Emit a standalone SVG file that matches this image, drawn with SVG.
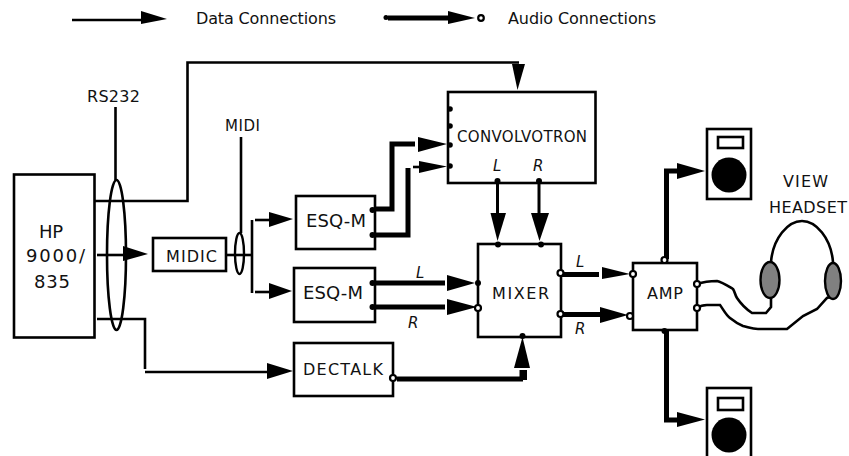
<svg xmlns="http://www.w3.org/2000/svg" width="849" height="456" viewBox="0 0 849 456">
<style>
text{font-family:"DejaVu Sans",Verdana,sans-serif;fill:#111}
.t{font-size:16px}
.s{font-size:15px}
.b{font-size:18px}
.i{font-size:15px;font-style:italic}
.box{fill:#fff;stroke:#000;stroke-width:2.600}
.d{fill:none;stroke:#000;stroke-width:2.600}
.a{fill:none;stroke:#000;stroke-width:5}
.h{fill:#000}
.f{fill:#000}
.o{fill:#fff;stroke:#000;stroke-width:2.200}
.cup{fill:#808080;stroke:#000;stroke-width:2.400}
</style>
<rect width="849" height="456" fill="#fff"/>
<g id="connectors">
<path class="d" d="M72 20H142"/><path class="h" d="M141 11L167 19L141 24Z"/>
<path class="a" d="M388 18H449"/><path class="h" d="M448 11L475 18L448 24Z"/>
<path class="d" d="M95 201H187.500V62.500H519"/><path class="h" d="M512 64H525L517.500 90Z"/>
<path class="d" d="M97 255H125"/><path class="h" d="M123 246L148 254L123 261Z"/>
<path class="d" d="M226 255H252"/>
<path class="d" d="M252 220V293"/>
<path class="d" d="M255 220H270"/><path class="h" d="M269 212L293 219L269 227Z"/>
<path class="d" d="M255 292H270"/><path class="h" d="M269 283L292 291L269 299Z"/>
<path class="d" d="M97 319H145V369"/>
<path class="d" d="M145 372H270"/><path class="h" d="M267 363L293 371L267 379Z"/>
<path class="a" d="M373 209H392V144H415"/><path class="h" d="M418 137L447 144L418 152Z"/>
<path class="a" d="M373 235H408V168"/><path class="d" d="M413 167H420"/><path class="h" d="M419 161L447 166.500L419 173Z"/>
<path class="a" d="M373 283H445"/><path class="h" d="M447 275L475 283L447 291Z"/>
<path class="a" d="M373 307H445"/><path class="h" d="M447 299L477 307L447 315Z"/>
<path class="d" d="M497.500 183V215" style="stroke-width:3"/><path class="h" d="M490.500 213H506L497.500 241Z"/>
<path class="d" d="M539 183V215" style="stroke-width:3"/><path class="h" d="M531 213H549L539.500 241Z"/>
<path class="a" d="M397 379H523"/><path class="h" d="M519.500 370H527V380H519.500Z"/><path class="h" d="M514 368H530L522.500 337Z"/>
<path class="a" d="M561 274.500H599"/><path class="h" d="M602 267L630 274L602 279Z"/>
<path class="a" d="M561 314.500H602"/><path class="h" d="M600 307L628 315L600 323Z"/>
<path class="a" d="M666.500 259V171H680"/><path class="h" d="M677 163L705 171L677 179Z"/>
<path class="a" d="M666.500 331V420H680"/><path class="h" d="M677 412L705 419.500L677 427Z"/>
<path class="d" d="M697 284C703 282 710 281 717 281C722 282 728 286 733 289C735 292 735 295 737 298C741 304 746 309 752 313H766L771 307V298"/>
<path class="d" d="M697 308C700 306 703 305 707 305H720C723 309 726 315 730 318C735 322 738 324 743 326C748 327 752 329 758 329H787L803 316L817 309L827 298L830 297"/>
<path class="d" d="M115.500 107V180"/>
<path class="d" d="M241 137V233"/>
</g>
<g id="legend">
<circle class="f" cx="386" cy="17.500" r="2.500"/>
<circle class="o" cx="481" cy="18" r="2.800"/>
<text class="t" x="196" y="24" textLength="140">Data Connections</text>
<text class="t" x="508" y="24" textLength="148">Audio Connections</text>
</g>
<g id="hp">
<rect class="box" x="14" y="174.500" width="80.500" height="163"/>
<text class="b" x="39" y="238" textLength="24">HP</text>
<text class="b" x="26" y="262" textLength="59">9000/</text>
<text class="b" x="34" y="288" textLength="36">835</text>
</g>
<g id="rs232">
<ellipse cx="116.500" cy="255" rx="9.500" ry="75" fill="none" stroke="#000" stroke-width="2.600"/>
<text class="t" x="87" y="102" textLength="53">RS232</text>
</g>
<g id="midic">
<rect class="box" x="153" y="238" width="73" height="33"/>
<text class="t" x="166" y="262" textLength="51">MIDIC</text>
</g>
<g id="midi">
<ellipse cx="239.500" cy="253.500" rx="4.500" ry="20.500" fill="none" stroke="#000" stroke-width="2.400"/>
<text class="s" x="225" y="131" textLength="35">MIDI</text>
</g>
<g id="esqm1">
<rect class="box" x="296" y="196" width="79" height="53"/>
<circle class="f" cx="372.500" cy="210" r="3"/>
<circle class="f" cx="372.500" cy="235" r="3"/>
<text class="b" x="306" y="227" textLength="60">ESQ-M</text>
</g>
<g id="esqm2">
<rect class="box" x="294" y="268" width="81" height="54"/>
<circle class="f" cx="372.500" cy="283" r="3"/>
<circle class="f" cx="372.500" cy="307" r="3"/>
<text class="b" x="303" y="299" textLength="60">ESQ-M</text>
<text class="i" x="416" y="278">L</text>
<text class="i" x="408" y="328">R</text>
</g>
<g id="dectalk">
<rect class="box" x="294" y="343" width="99" height="53"/>
<circle class="o" cx="393" cy="378" r="3"/>
<text class="t" x="303" y="375" textLength="80">DECTALK</text>
</g>
<g id="convolvotron">
<rect class="box" x="448" y="92" width="147.500" height="91"/>
<circle class="f" cx="450" cy="109" r="2.800"/>
<circle class="f" cx="450" cy="126" r="2.800"/>
<circle class="f" cx="450" cy="145" r="2.800"/>
<circle class="f" cx="450" cy="166" r="2.800"/>
<circle class="f" cx="497.500" cy="181" r="3"/>
<circle class="f" cx="539" cy="181" r="3"/>
<text class="s" x="457" y="142" textLength="130">CONVOLVOTRON</text>
<text class="i" x="493" y="171">L</text>
<text class="i" x="533" y="171">R</text>
</g>
<g id="mixer">
<rect class="box" x="478" y="244" width="83" height="93"/>
<circle class="f" cx="498" cy="244.500" r="3"/>
<circle class="f" cx="541" cy="244.500" r="3"/>
<circle class="f" cx="478" cy="283" r="3"/>
<circle class="o" cx="478" cy="308" r="3"/>
<circle class="o" cx="560.500" cy="273" r="3"/>
<circle class="o" cx="560.500" cy="314" r="3"/>
<circle class="f" cx="522.500" cy="336" r="3"/>
<text class="t" x="492" y="299" textLength="57">MIXER</text>
<text class="i" x="576" y="267">L</text>
<text class="i" x="575" y="334">R</text>
</g>
<g id="amp">
<rect class="box" x="633" y="263" width="64" height="67"/>
<circle class="o" cx="633" cy="274" r="3"/>
<circle class="o" cx="630" cy="316" r="3"/>
<circle class="o" cx="664.500" cy="260" r="3"/>
<circle class="f" cx="664.500" cy="331" r="3"/>
<circle class="o" cx="697" cy="284" r="3"/>
<circle class="o" cx="697" cy="308" r="3"/>
<text class="t" x="647" y="299" textLength="36">AMP</text>
</g>
<g id="speaker-top">
<rect class="box" x="707" y="129" width="44" height="70"/>
<rect class="box" x="718" y="137" width="25" height="11"/>
<circle class="f" cx="729" cy="175" r="17.500"/>
</g>
<g id="speaker-bottom">
<rect class="box" x="707" y="388" width="44" height="70"/>
<rect class="box" x="718" y="398" width="25" height="12"/>
<circle class="f" cx="729" cy="435" r="17.500"/>
</g>
<g id="headset">
<path class="d" d="M771 262C773 238 788 221 802 221C816 221 831 238 833 262"/>
<ellipse class="cup" cx="770" cy="280" rx="9.500" ry="18"/>
<ellipse class="cup" cx="833" cy="281" rx="8" ry="18"/>
<text class="t" x="783" y="187" textLength="45">VIEW</text>
<text class="t" x="769" y="213" textLength="78">HEADSET</text>
</g>
</svg>
